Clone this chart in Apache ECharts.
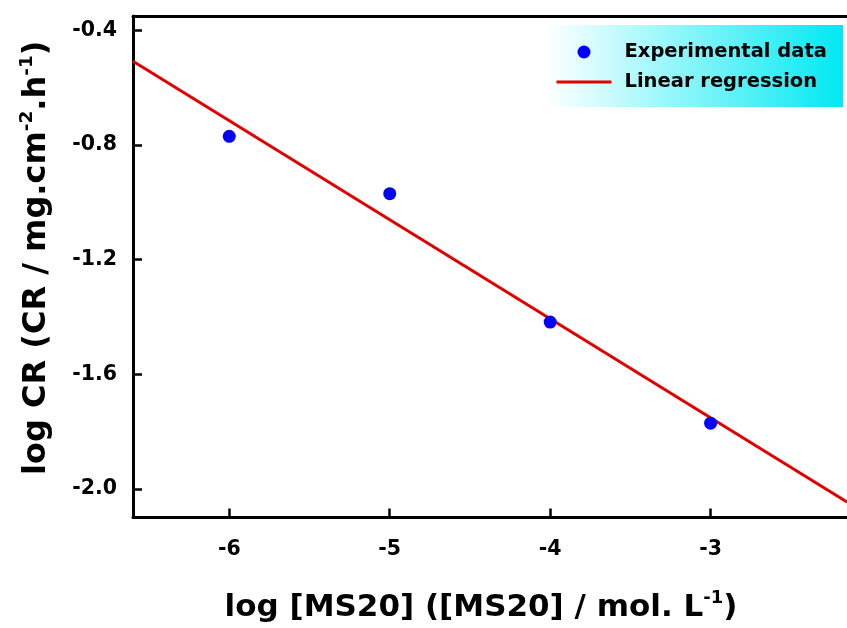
<!DOCTYPE html>
<html>
<head>
<meta charset="utf-8">
<script src="https://cdn.jsdelivr.net/npm/echarts@6/dist/echarts.min.js"></script>
<style>html,body{margin:0;padding:0;background:#fff;}#c{width:847px;height:628px;}</style>
</head>
<body>
<div id="c"></div>
<script>
// Data
const expX = [-6, -5, -4, -3];
const expY = [-0.770, -0.970, -1.418, -1.771];
const fitX = [-6.6, -2.15];
const fitY = [-0.508, -2.046];
const xTicks = [-6, -5, -4, -3];
const yTicks = [-2.0, -1.6, -1.2, -0.8, -0.4];

const FONT = 'DejaVu Sans';
const X_MIN = -6.6, X_MAX = -2.15;
const chart = echarts.init(document.getElementById('c'));
chart.setOption({
  animation: false,
  backgroundColor: '#fff',
  grid: { left: 133, right: 0, top: 16, bottom: 108, show: false },
  graphic: [{
    type: 'rect', left: 545, top: 25, z: 5,
    shape: { width: 298, height: 82 },
    style: { fill: new echarts.graphic.LinearGradient(0, 0, 1, 0, [
      { offset: 0, color: '#ffffff' }, { offset: 0.45, color: '#8ff6fa' }, { offset: 1, color: '#00e8f2' }
    ]) }
  }],
  legend: {
    orient: 'vertical', left: 550, top: 37, z: 10,
    itemWidth: 55, itemHeight: 13, itemGap: 10,
    textStyle: { fontFamily: FONT, fontWeight: 'bold', fontSize: 19.5, color: '#000', padding: [0, 0, 0, 8] },
    data: [
      { name: 'Experimental data', icon: 'circle' },
      { name: 'Linear regression', itemStyle: { opacity: 0 }, lineStyle: { width: 3, color: '#e00000' } }
    ]
  },
  xAxis: [{
    type: 'value', min: X_MIN, max: X_MAX,
    axisLine: { show: true, lineStyle: { color: '#000', width: 3 } },
    axisTick: { show: true, inside: true, length: 9, lineStyle: { color: '#000', width: 2.5 }, customValues: xTicks },
    axisLabel: { customValues: xTicks, margin: 22, fontFamily: FONT, fontWeight: 'bold', fontSize: 20.5, color: '#000', formatter: v => String(v) },
    splitLine: { show: false },
    name: 'log [MS20] ([MS20] / mol. L{sup|-1})',
    nameLocation: 'middle', nameGap: 72,
    nameTextStyle: { fontFamily: FONT, fontWeight: 'bold', fontSize: 31, color: '#000', padding: [0, 18, 0, 0],
      rich: { sup: { fontFamily: FONT, fontWeight: 'bold', fontSize: 18, color: '#000', padding: [0, 0, 18, 0] } } }
  }, {
    type: 'value', position: 'top', min: X_MIN, max: X_MAX,
    axisLine: { show: true, lineStyle: { color: '#000', width: 3 } },
    axisTick: { show: false }, axisLabel: { show: false }, splitLine: { show: false }
  }],
  yAxis: {
    type: 'value', min: -2.1, max: -0.35,
    axisLine: { show: true, lineStyle: { color: '#000', width: 3 } },
    axisTick: { show: true, inside: true, length: 9, lineStyle: { color: '#000', width: 2.5 }, customValues: yTicks },
    axisLabel: { customValues: yTicks, margin: 16, fontFamily: FONT, fontWeight: 'bold', fontSize: 20.5, color: '#000', formatter: v => v.toFixed(1) },
    splitLine: { show: false },
    name: 'log CR (CR / mg.cm{sup|-2}.h{sup|-1})',
    nameLocation: 'middle', nameGap: 78, nameRotate: 90,
    nameTextStyle: { fontFamily: FONT, fontWeight: 'bold', fontSize: 32, color: '#000', padding: [0, 0, 0, 18],
      rich: { sup: { fontFamily: FONT, fontWeight: 'bold', fontSize: 18.5, color: '#000', padding: [0, 0, 18, 0] } } }
  },
  series: [
    {
      name: 'Experimental data', type: 'scatter', symbol: 'circle', symbolSize: 13, z: 4,
      itemStyle: { color: '#0000ff', opacity: 1 },
      data: expX.map((x, i) => [x, expY[i]])
    },
    {
      name: 'Linear regression', type: 'line', symbol: 'none', showSymbol: false, z: 3,
      lineStyle: { color: '#e00000', width: 3 }, itemStyle: { color: '#e00000' },
      data: fitX.map((x, i) => [x, fitY[i]])
    }
  ]
});
</script>
</body>
</html>
